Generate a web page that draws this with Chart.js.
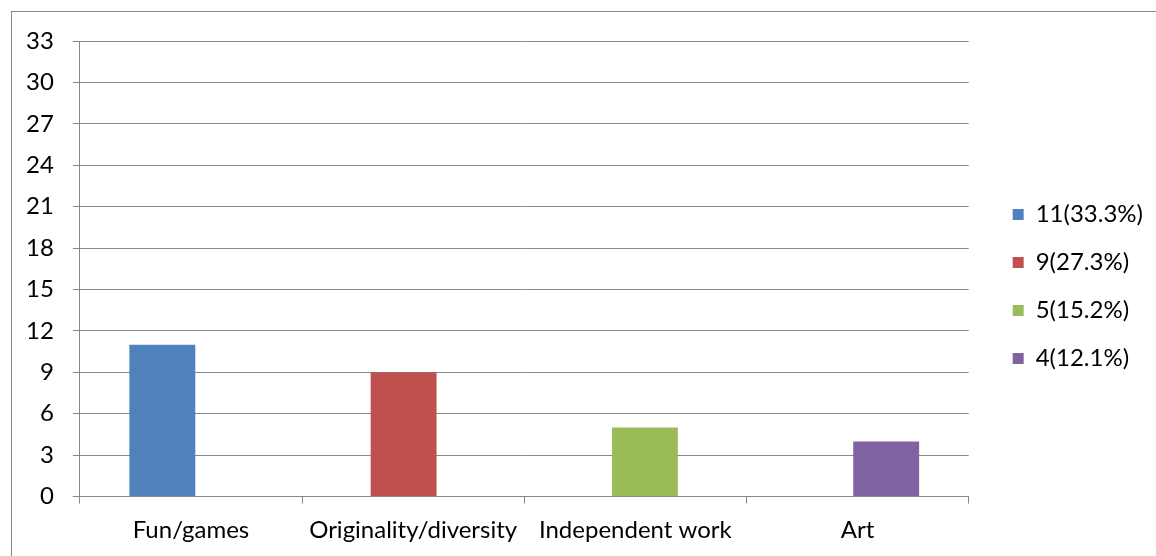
<!DOCTYPE html>
<html>
<head>
<meta charset="utf-8">
<script src="https://cdn.jsdelivr.net/npm/chart.js@4"></script>
<style>
  html, body { margin: 0; padding: 0; background: #fff; }
  #wrap { position: relative; width: 1156px; height: 556px; overflow: hidden; }
  #frame { position: absolute; left: 11px; top: 11px; width: 1300px; height: 700px;
           border-left: 1px solid #878787; border-top: 1px solid #878787; }
  canvas { position: absolute; left: 0; top: 0; }
</style>
</head>
<body>
<div id="wrap">
  <div id="frame"></div>
  <canvas id="chart" width="1156" height="556"></canvas>
</div>
<script>
'use strict';

// Data
const categories = ['Fun/games', 'Originality/diversity', 'Independent work', 'Art'];
const counts = [11, 9, 5, 4];
const seriesLabels = ['11(33.3%)', '9(27.3%)', '5(15.2%)', '4(12.1%)'];
const yTicks = [0, 3, 6, 9, 12, 15, 18, 21, 24, 27, 30, 33];

// Colors
const blueColor = '#4F81BD',
    redColor = '#C0504D',
    greenColor = '#9BBB59',
    purpleColor = '#8064A2',
    gridColor = '#878787',
    textColor = '#000000';
const seriesColors = [blueColor, redColor, greenColor, purpleColor];

const fontFamily = 'Lato, "Open Sans", sans-serif';
const fontSize = 24;

// one series per category (empty elsewhere), grouped with heavy overlap
// so each bar sits a little further right in its category, like the original
const datasets = seriesLabels.map(function (label, i) {
    return {
        label: label,
        data: categories.map(function (c, j) { return j === i ? counts[i] : null; }),
        backgroundColor: seriesColors[i],
        borderColor: 'transparent',
        categoryPercentage: 0.3434,
        barPercentage: 3.455
    };
});

// nudge the legend up a little, like the original
const legendShift = {
    id: 'legendShift',
    afterLayout: function (chart) {
        if (chart.legend) {
            chart.legend.top -= 12;
            chart.legend.bottom -= 12;
        }
    }
};

new Chart(document.getElementById('chart'), {
    type: 'bar',
    data: {
        labels: categories,
        datasets: datasets
    },
    plugins: [legendShift],
    options: {
        responsive: false,
        animation: false,
        layout: {
            padding: { left: 7, top: 41, right: 3, bottom: 0 }
        },
        plugins: {
            tooltip: { enabled: false },
            legend: {
                position: 'right',
                align: 'center',
                labels: {
                    boxWidth: 11,
                    boxHeight: 11,
                    padding: 24,
                    color: textColor,
                    font: { family: fontFamily, size: fontSize }
                }
            }
        },
        scales: {
            x: {
                grid: {
                    color: gridColor,
                    drawOnChartArea: false,
                    tickLength: 7
                },
                border: { color: gridColor, width: 1 },
                ticks: {
                    color: textColor,
                    padding: 13,
                    maxRotation: 0,
                    font: { family: fontFamily, size: fontSize, lineHeight: 1.1 }
                }
            },
            y: {
                min: 0,
                max: 33,
                afterBuildTicks: function (scale) {
                    scale.ticks = yTicks.map(function (v) { return { value: v }; });
                },
                grid: {
                    color: gridColor,
                    tickLength: 7
                },
                border: { color: gridColor, width: 1 },
                ticks: {
                    color: textColor,
                    padding: 19,
                    font: { family: fontFamily, size: fontSize }
                }
            },
            // empty spacer between the plot and the legend
            gap: {
                type: 'linear',
                position: 'right',
                grid: { display: false },
                border: { display: false },
                ticks: { display: false },
                afterFit: function (scale) {
                    scale.width = 20;
                }
            }
        }
    }
});
</script>
</body>
</html>
